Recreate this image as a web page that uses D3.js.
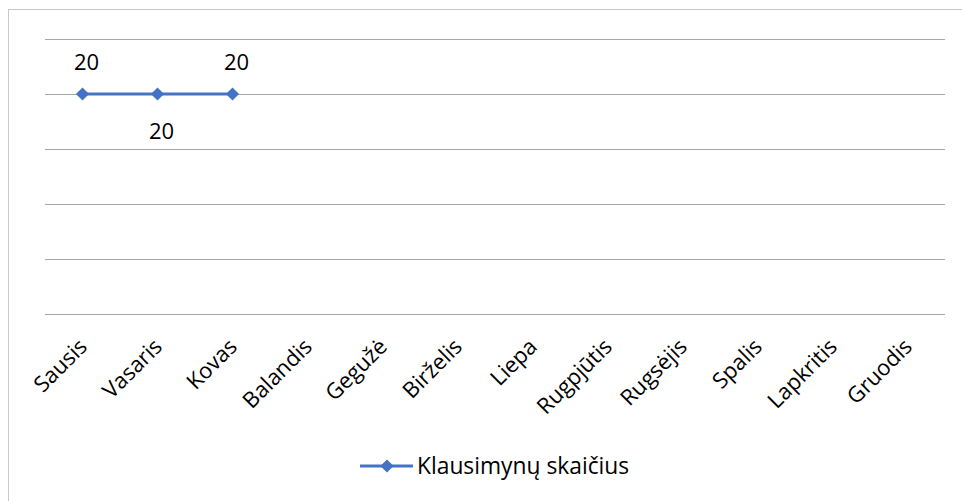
<!DOCTYPE html>
<html><head><meta charset="utf-8">
<script src="https://cdn.jsdelivr.net/npm/d3@7"></script>
<style>body{margin:0;background:#fff}svg{display:block;font-family:"Open Sans",sans-serif}</style>
</head><body><svg id="c" width="962" height="501"></svg>
<script>
const months = ["Sausis","Vasaris","Kovas","Balandis","Gegužė","Birželis","Liepa","Rugpjūtis","Rugsėjis","Spalis","Lapkritis","Gruodis"];
const values = [20, 20, 20];
const labelPlacement = ["above","below","above"];
const yTicks = [0,5,10,15,20,25];
const seriesName = "Klausimynų skaičius";

const svg = d3.select("#c");
const color = "#4472C4";
svg.append("rect").attr("x",8.5).attr("y",9.5).attr("width",970).attr("height",520)
  .attr("fill","none").attr("stroke","#c8c8c8");

const x = d3.scaleBand().domain(months).range([45,945]);
const y = d3.scaleLinear().domain([0,25]).range([314,39]);

svg.append("g").selectAll("line").data(yTicks).join("line")
  .attr("x1",45).attr("x2",945).attr("y1",d=>Math.round(y(d))+0.5).attr("y2",d=>Math.round(y(d))+0.5)
  .attr("stroke","#a6a6a6").attr("stroke-width",1);

svg.append("g").selectAll("text").data(months).join("text")
  .attr("transform",d=>`translate(${x(d)+x.bandwidth()/2+6},${348}) rotate(-45)`)
  .attr("text-anchor","end").attr("font-size",22).attr("fill","#000").text(d=>d);

const pts = values.map((v,i)=>({m:months[i],v,p:labelPlacement[i]}));
const cx = d=>x(d.m)+x.bandwidth()/2;
svg.append("path").datum(pts).attr("fill","none").attr("stroke",color).attr("stroke-width",3)
  .attr("d",d3.line().x(cx).y(d=>y(d.v)));
const diamond = d3.symbol().type(d3.symbolDiamond2).size(110);
svg.append("g").selectAll("path").data(pts).join("path")
  .attr("transform",d=>`translate(${cx(d)},${y(d.v)})`).attr("d",diamond).attr("fill",color);
svg.append("g").selectAll("text").data(pts).join("text")
  .attr("x",d=>cx(d)+4).attr("y",d=>y(d.v)+(d.p==="above"?-24:45))
  .attr("text-anchor","middle").attr("font-size",22).attr("fill","#000").text(d=>d.v);

const lg = svg.append("g");
lg.append("line").attr("x1",360).attr("x2",413).attr("y1",466).attr("y2",466).attr("stroke",color).attr("stroke-width",3);
lg.append("path").attr("transform","translate(387,466)").attr("d",diamond).attr("fill",color);
lg.append("text").attr("x",417).attr("y",474).attr("font-size",22.8).attr("fill","#000").text(seriesName);
</script></body></html>
